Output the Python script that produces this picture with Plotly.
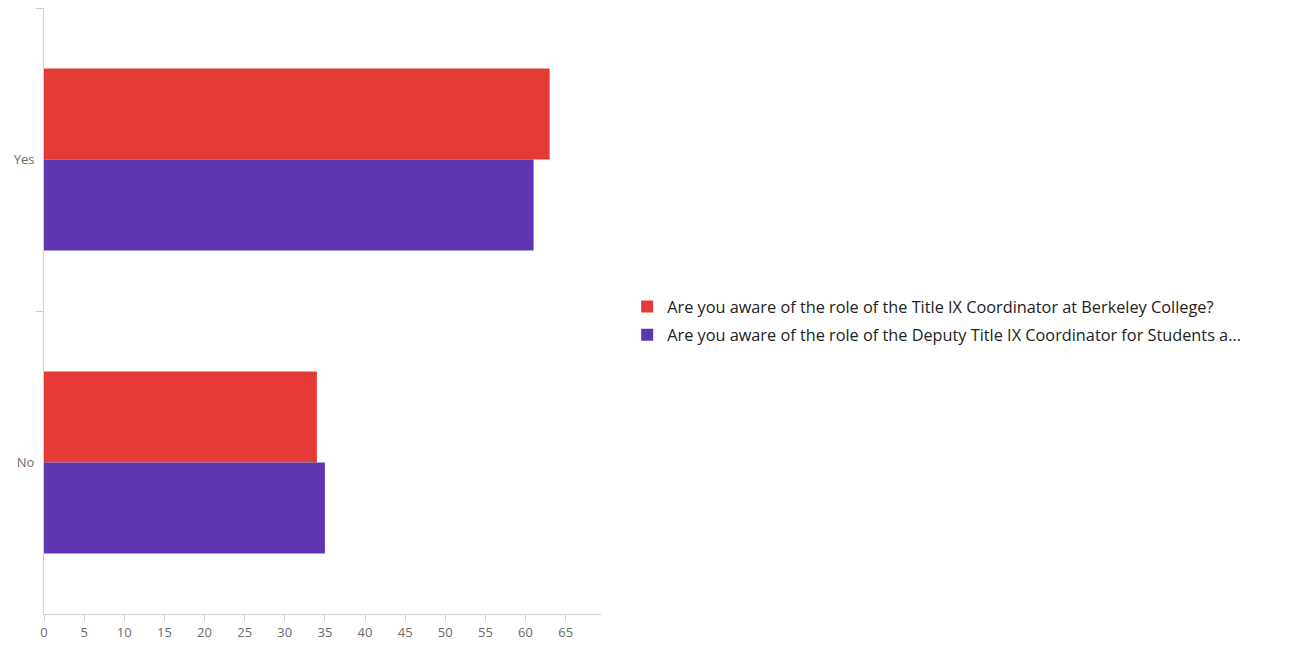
import plotly.graph_objects as go

categories = ["Yes", "No"]
coordinator_values = [63, 34]
deputy_values = [61, 35]
series_names = [
    "Are you aware of the role of the Title IX Coordinator at Berkeley College?",
    "Are you aware of the role of the Deputy Title IX Coordinator for Students a...",
]
x_ticks = list(range(0, 70, 5))

colors = ["#E53A35", "#5E35B1"]
axis_gray = "#D0D0D0"
text_gray = "#6B6B6B"

fig = go.Figure()
fig.add_trace(go.Bar(
    name=series_names[0], y=categories, x=coordinator_values, legendgroup="a",
    orientation="h", marker=dict(color=colors[0], line=dict(width=0)),
))
fig.add_trace(go.Bar(
    name=series_names[1], y=categories, x=deputy_values, legendgroup="b",
    orientation="h", marker=dict(color=colors[1], line=dict(width=0)),
))

# page body has an 8px margin, so the figure is shrunk by that amount
fig.update_layout(
    width=1281,
    height=637,
    barmode="group",
    bargap=0.4,
    bargroupgap=0,
    paper_bgcolor="white",
    plot_bgcolor="white",
    font=dict(family="Open Sans, sans-serif", color=text_gray, size=12),
    margin=dict(l=36, r=688, t=0, b=31),
    showlegend=True,
    legend=dict(
        x=1.047, xanchor="left", y=0.4835, yanchor="middle",
        font=dict(size=16.3, color="#222222"),
        itemwidth=30,
        tracegroupgap=4,
    ),
)
fig.update_xaxes(
    range=[0, 69.4],
    tickvals=x_ticks,
    showgrid=False,
    zeroline=False,
    showline=True,
    linecolor=axis_gray,
    linewidth=1,
    ticks="outside",
    ticklen=6,
    tickcolor=axis_gray,
    tickfont=dict(size=13, color=text_gray),
)
fig.update_yaxes(
    autorange="reversed",
    showgrid=False,
    zeroline=False,
    showline=True,
    linecolor=axis_gray,
    linewidth=1,
    ticks="outside",
    tickson="boundaries",
    ticklen=7,
    tickcolor=axis_gray,
    ticklabelstandoff=6,
    tickfont=dict(size=13, color=text_gray),
)

fig.write_html("out.html")
